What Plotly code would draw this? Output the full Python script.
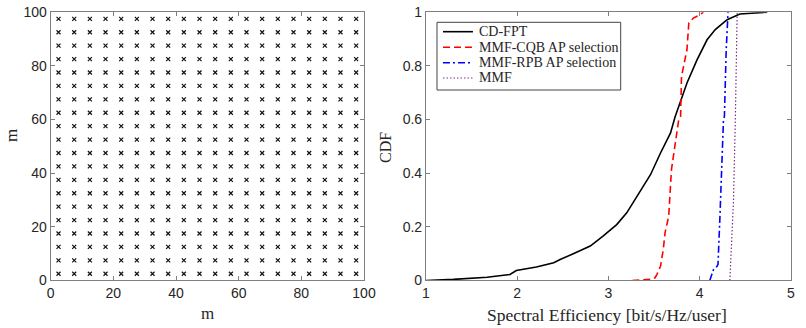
import plotly.graph_objects as go
from plotly.subplots import make_subplots

# AP grid positions (m)
ap_pos = [2.5, 7.5, 12.5, 17.5, 22.5, 27.5, 32.5, 37.5, 42.5, 47.5,
          52.5, 57.5, 62.5, 67.5, 72.5, 77.5, 82.5, 87.5, 92.5, 97.5]

# CDF curves: spectral efficiency vs CDF level
fpt_se = [1.00, 1.30, 1.67, 1.92, 1.99, 2.21, 2.40, 2.47, 2.62, 2.80, 2.94, 3.09,
          3.20, 3.29, 3.31, 3.46, 3.57, 3.68, 3.73, 3.86, 3.97, 4.08, 4.17, 4.30,
          4.44, 4.63, 4.74]
fpt_cdf = [0.0, 0.004, 0.012, 0.022, 0.037, 0.05, 0.066, 0.078, 0.10, 0.128, 0.165, 0.208,
           0.252, 0.30, 0.314, 0.394, 0.475, 0.55, 0.61, 0.736, 0.822, 0.897, 0.935, 0.972,
           0.993, 0.998, 1.0]

cqb_se = [3.26, 3.46, 3.51, 3.53, 3.57, 3.60, 3.62, 3.66, 3.69, 3.73, 3.77, 3.79,
          3.80, 3.86, 3.88, 3.93, 4.00, 4.04]
cqb_cdf = [0.0, 0.004, 0.01, 0.022, 0.053, 0.115, 0.178, 0.24, 0.413, 0.5, 0.6, 0.611,
           0.76, 0.86, 0.959, 0.978, 0.99, 1.0]

rpb_se = [4.11, 4.15, 4.19, 4.20, 4.22, 4.24, 4.26, 4.27, 4.29, 4.31]
rpb_cdf = [0.0, 0.04, 0.053, 0.06, 0.227, 0.41, 0.6, 0.61, 0.86, 1.0]

mmf_se = [4.33, 4.35, 4.37, 4.39, 4.40, 4.41, 4.41]
mmf_cdf = [0.0, 0.15, 0.3, 0.6, 0.8, 0.97, 1.0]

series_names = ['CD-FPT', 'MMF-CQB AP selection', 'MMF-RPB AP selection', 'MMF']
series_colors = ['black', '#ff0000', '#0000ff', '#7e2f8e']
series_dash = ['solid', '7px,4px', '7px,3px,2px,3px', '1.5px,2px']
series_width = [1.6, 1.6, 1.6, 1.2]

ap_x = [x for y in ap_pos for x in ap_pos]
ap_y = [y for y in ap_pos for x in ap_pos]

fig = make_subplots(rows=1, cols=2)

fig.add_trace(go.Scatter(x=ap_x, y=ap_y, mode='markers', showlegend=False,
                         marker=dict(symbol='x-thin', size=4,
                                     line=dict(width=1.2, color='#111111'))),
              row=1, col=1)

curves = [(fpt_se, fpt_cdf), (cqb_se, cqb_cdf), (rpb_se, rpb_cdf), (mmf_se, mmf_cdf)]
for (xs, ys), name, col, dash, w in zip(curves, series_names, series_colors, series_dash, series_width):
    fig.add_trace(go.Scatter(x=xs, y=ys, mode='lines', name=name, showlegend=False,
                             line=dict(color=col, width=w, dash=dash)), row=1, col=2)

serif = 'Liberation Serif'
txt = '#262626'
axis_style = dict(showline=True, linecolor='#808080', linewidth=1, mirror='ticks',
                  ticks='inside', ticklen=4, tickcolor='#808080', showgrid=False,
                  zeroline=False, automargin=False,
                  tickfont=dict(family='Liberation Sans', size=14, color=txt))

fig.update_xaxes(**axis_style)
fig.update_yaxes(**axis_style)

fig.update_xaxes(range=[0, 100], tickvals=[0, 20, 40, 60, 80, 100], domain=[0.0629, 0.4516],
                 row=1, col=1)
fig.update_yaxes(range=[0, 100], tickvals=[0, 20, 40, 60, 80, 100], domain=[0.145, 0.963],
                 row=1, col=1)
fig.update_xaxes(range=[1, 5], tickvals=[1, 2, 3, 4, 5], domain=[0.5285, 0.9814],
                 row=1, col=2)
fig.update_yaxes(range=[0, 1], tickvals=[0, 0.2, 0.4, 0.6, 0.8, 1],
                 ticktext=['0', '0.2', '0.4', '0.6', '0.8', '1'],
                 domain=[0.145, 0.963], row=1, col=2)

# axis titles placed as annotations (LaTeX-style serif labels)
titles = [
    dict(text='m', x=0.257, y=0.0457, angle=0, size=17),
    dict(text='m', x=0.0136, y=0.588, angle=-90, size=17),
    dict(text='Spectral Efficiency [bit/s/Hz/user]', x=0.7537, y=0.0396, angle=0, size=17.5),
    dict(text='CDF', x=0.479, y=0.549, angle=-90, size=16),
]
for t in titles:
    fig.add_annotation(xref='paper', yref='paper', x=t['x'], y=t['y'], xanchor='center',
                       yanchor='middle', text=t['text'], textangle=t['angle'], showarrow=False,
                       font=dict(family=serif, size=t['size'], color=txt))

# legend drawn by hand to get MATLAB's tight row spacing
leg_x0, leg_x1 = 0.5422, 0.7701
leg_y0, leg_y1 = 0.7256, 0.932
row_y = [0.9034, 0.8558, 0.8088, 0.7622]
fig.add_shape(type='rect', xref='paper', yref='paper', x0=leg_x0, x1=leg_x1, y0=leg_y0, y1=leg_y1,
              line=dict(color='#444444', width=1), fillcolor='white', layer='above')
for y, name, col, dash, w in zip(row_y, series_names, series_colors, series_dash, series_width):
    fig.add_shape(type='line', xref='paper', yref='paper', x0=0.5496, x1=0.5868, y0=y, y1=y,
                  line=dict(color=col, width=w, dash=dash), layer='above')
    fig.add_annotation(xref='paper', yref='paper', x=0.5914, y=y, xanchor='left', yanchor='middle',
                       text=name, showarrow=False, font=dict(family=serif, size=14, color=txt))

fig.update_layout(
    width=806, height=328,
    margin=dict(l=0, r=0, t=0, b=0),
    plot_bgcolor='white', paper_bgcolor='white',
    showlegend=False,
)

fig.write_html("out.html", config={'displayModeBar': False},
               post_script="document.body.style.margin='0';document.body.style.overflow='hidden';")
